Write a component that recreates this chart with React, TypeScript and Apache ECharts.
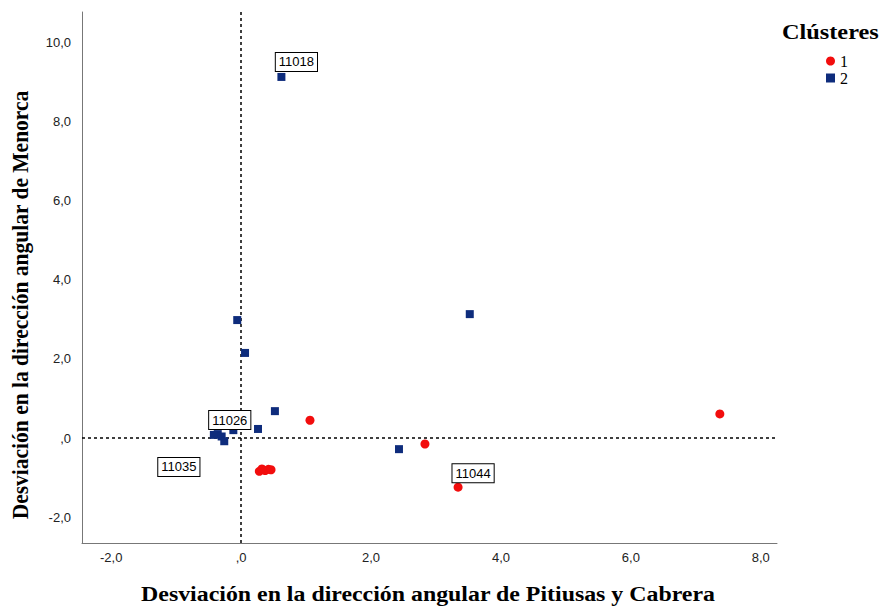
import React, { useEffect, useRef } from "react";
import * as echarts from "echarts";

const cluster1Points: [number, number][] = [
  [7.37, 0.61],
  [1.06, 0.45],
  [2.83, -0.15],
  [3.34, -1.24],
  [0.28, -0.84],
  [0.32, -0.78],
  [0.37, -0.82],
  [0.42, -0.79],
  [0.46, -0.8],
];

const cluster2Points: [number, number][] = [
  [0.62, 9.12],
  [-0.06, 2.98],
  [0.06, 2.15],
  [3.52, 3.13],
  [0.52, 0.68],
  [0.26, 0.23],
  [2.43, -0.28],
  [-0.42, 0.08],
  [-0.36, 0.1],
  [-0.3, 0.04],
  [-0.26, -0.08],
  [-0.12, 0.2],
];

const clusterNames = ["1", "2"];
const xTicks = [-2, 0, 2, 4, 6, 8];
const yTicks = [-2, 0, 2, 4, 6, 8, 10];
// case labels: [cluster, point index, text]
const caseLabels: [number, number, string][] = [
  [2, 0, "11018"],
  [2, 8, "11026"],
  [2, 7, "11035"],
  [1, 3, "11044"],
];

const xTitle = "Desviación en la dirección angular de Pitiusas y Cabrera";
const yTitle = "Desviación en la dirección angular de Menorca";
const legendTitle = "Clústeres";

const labelOffsets: Record<string, [number, number]> = {
  "11018": [15, -15],
  "11026": [12, -14],
  "11035": [-35, 32],
  "11044": [15, -14],
};

const fmt = (v: number) => (v === 0 ? ",0" : v.toFixed(1).replace(".", ","));

function buildData(cluster: number, pts: [number, number][]) {
  return pts.map((p, i) => {
    const lab = caseLabels.find((c) => c[0] === cluster && c[1] === i);
    if (!lab) return { value: p };
    return {
      value: p,
      label: {
        show: true,
        formatter: lab[2],
        position: "inside",
        offset: labelOffsets[lab[2]],
        backgroundColor: "#ffffff",
        borderColor: "#000000",
        borderWidth: 1,
        padding: [3, 3, 2, 3],
        color: "#000000",
        fontFamily: "Liberation Sans, Arial, sans-serif",
        fontSize: 13,
      },
    };
  });
}

export default function App() {
  const ref = useRef<HTMLDivElement>(null);
  useEffect(() => {
    if (!ref.current) return;
    const chart = echarts.init(ref.current, null, { renderer: "svg" });
    chart.setOption({
      animation: false,
      backgroundColor: "#ffffff",
      grid: { left: 82, top: 12, right: 108, bottom: 63, containLabel: false },
      xAxis: {
        type: "value",
        min: -2.45,
        max: 8.25,
        splitLine: { show: false },
        axisLine: { onZero: false, lineStyle: { color: "#777777", width: 1 } },
        axisTick: { show: false },
        axisLabel: {
          customValues: xTicks,
          formatter: fmt,
          color: "#222222",
          fontFamily: "Liberation Sans, Arial, sans-serif",
          fontSize: 13,
          margin: 8,
        },
      },
      yAxis: {
        type: "value",
        min: -2.65,
        max: 10.76,
        splitLine: { show: false },
        axisLine: { show: true, onZero: false, lineStyle: { color: "#777777", width: 1 } },
        axisTick: { show: false },
        axisLabel: {
          customValues: yTicks,
          formatter: fmt,
          color: "#222222",
          fontFamily: "Liberation Sans, Arial, sans-serif",
          fontSize: 13,
          margin: 11,
        },
      },
      legend: {
        orient: "vertical",
        left: 821,
        top: 48,
        itemWidth: 9,
        itemHeight: 9,
        itemGap: 1,
        data: clusterNames,
        textStyle: {
          fontFamily: "Liberation Serif, Times New Roman, serif",
          fontSize: 16,
          color: "#000000",
          padding: [0, 0, 0, 0],
        },
      },
      graphic: [
        {
          type: "text",
          x: 782,
          y: 32,
          scaleX: 1.13,
          style: {
            text: legendTitle,
            font: "bold 21.5px 'Liberation Serif', 'Times New Roman', serif",
            fill: "#000000",
            align: "left",
            verticalAlign: "middle",
          },
        },
        {
          type: "text",
          x: 428,
          y: 594,
          scaleX: 1.11,
          style: {
            text: xTitle,
            font: "bold 21.5px 'Liberation Serif', 'Times New Roman', serif",
            fill: "#000000",
            align: "center",
            verticalAlign: "middle",
          },
        },
        {
          type: "text",
          x: 20,
          y: 305,
          rotation: Math.PI / 2,
          scaleY: 1.11,
          style: {
            text: yTitle,
            font: "bold 21.5px 'Liberation Serif', 'Times New Roman', serif",
            fill: "#000000",
            align: "center",
            verticalAlign: "middle",
          },
        },
      ],
      series: [
        {
          name: clusterNames[0],
          type: "scatter",
          symbol: "circle",
          symbolSize: 9,
          itemStyle: { color: "#f20d0d", opacity: 1 },
          data: buildData(1, cluster1Points),
          z: 3,
        },
        {
          name: clusterNames[1],
          type: "scatter",
          symbol: "rect",
          symbolSize: 8,
          itemStyle: { color: "#0e2c7c", opacity: 1 },
          data: buildData(2, cluster2Points),
          z: 3,
          markLine: {
            silent: true,
            symbol: "none",
            label: { show: false },
            lineStyle: { color: "#000000", type: [3, 3], width: 1.5 },
            data: [{ xAxis: 0 }, { yAxis: 0 }],
            z: 1,
          },
        },
      ],
    });
    return () => chart.dispose();
  }, []);
  return (
    <div
      ref={ref}
      style={{ position: "fixed", left: 0, top: 0, width: 885, height: 606 }}
    />
  );
}
